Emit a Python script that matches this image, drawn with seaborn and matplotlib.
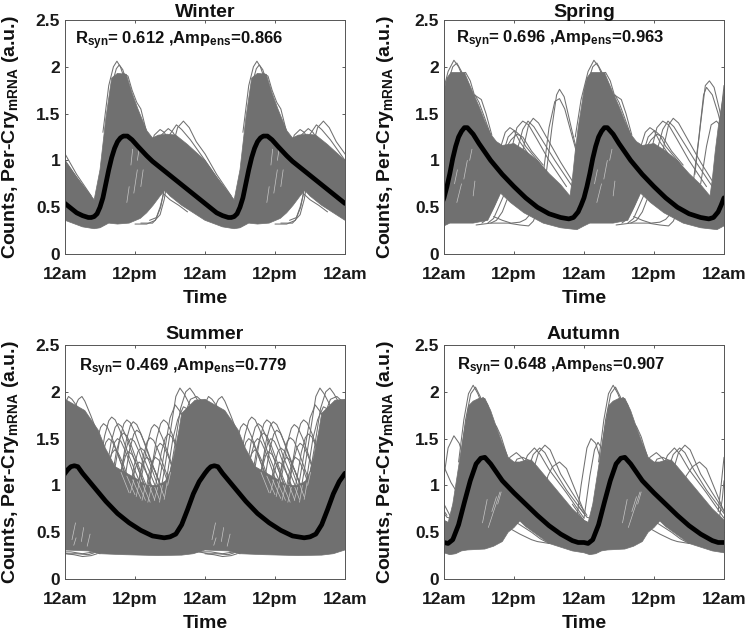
import numpy as np
import matplotlib
matplotlib.use("Agg")
import matplotlib.pyplot as plt
import seaborn as sns

sns.set_theme(style="white")
plt.rcParams['font.family'] = ['Liberation Sans', 'DejaVu Sans']
plt.rcParams['mathtext.fontset'] = 'custom'
plt.rcParams['mathtext.bf'] = 'Liberation Sans:bold'
plt.rcParams['mathtext.rm'] = 'Liberation Sans:bold'
plt.rcParams['mathtext.default'] = 'bf'

GRAY = '#707070'

seasons = ['Winter', 'Spring', 'Summer', 'Autumn']
rsyn = ['0.612', '0.696', '0.469', '0.648']
amp = ['0.866', '0.963', '0.779', '0.907']
tick_hours = [0, 12, 24, 36, 48]
tick_names = ['12am', '12pm', '12am', '12pm', '12am']
y_ticks = [0, 0.5, 1, 1.5, 2, 2.5]
y_names = ['0', '0.5', '1', '1.5', '2', '2.5']

# ---- ensemble mean (one day, hours, value)
winter_mean_h = [0, 1, 2, 3, 4, 4.5, 5, 5.5, 6, 6.5, 7, 7.5, 8, 8.5, 9, 9.5, 10, 10.7, 11.5, 12.5, 14, 15, 16, 18, 20, 22, 24]
winter_mean_v = [0.54, 0.49, 0.44, 0.41, 0.39, 0.39, 0.40, 0.43, 0.50, 0.60, 0.75, 0.90, 1.03, 1.13, 1.20, 1.24, 1.26, 1.26, 1.22, 1.15, 1.05, 0.99, 0.94, 0.84, 0.74, 0.64, 0.54]
spring_mean_h = [0, 0.5, 1, 1.5, 2, 2.5, 3, 3.5, 4, 5, 6, 8, 10, 12, 14, 16, 18, 20, 21.4, 22.2, 23, 23.5, 24]
spring_mean_v = [0.60, 0.72, 0.86, 1.02, 1.15, 1.25, 1.31, 1.35, 1.35, 1.28, 1.18, 1.00, 0.85, 0.72, 0.60, 0.50, 0.43, 0.39, 0.375, 0.39, 0.45, 0.52, 0.60]
summer_mean_h = [0, 0.5, 1, 1.6, 2.2, 3, 5, 7, 9, 11, 13, 15, 16, 17, 18, 19, 20, 21, 22, 23, 24]
summer_mean_v = [1.13, 1.17, 1.20, 1.21, 1.20, 1.13, 0.98, 0.83, 0.70, 0.60, 0.52, 0.46, 0.45, 0.44, 0.45, 0.48, 0.58, 0.74, 0.91, 1.04, 1.13]
autumn_mean_h = [0, 0.7, 1.5, 2.5, 3.5, 4.5, 5.5, 6.3, 7, 8, 9, 10, 12, 14, 16, 18, 20, 22, 23, 24]
autumn_mean_v = [0.39, 0.38, 0.42, 0.58, 0.82, 1.05, 1.23, 1.29, 1.30, 1.23, 1.14, 1.05, 0.92, 0.80, 0.68, 0.57, 0.48, 0.41, 0.39, 0.39]

# ---- dense part of the ensemble, upper and lower edge
winter_up_h = [0, 2, 5, 6, 7, 8, 9, 10.5, 11.5, 12.5, 14, 15, 16, 17.5, 19, 21, 24]
winter_up_v = [1.0, 0.82, 0.58, 0.9, 1.45, 1.88, 1.93, 1.92, 1.72, 1.55, 1.32, 1.24, 1.27, 1.28, 1.27, 1.17, 1.0]
winter_lo_h = [0, 3, 5, 6, 7.5, 9, 11, 12.9, 14, 15.1, 16.3, 17.1, 18, 20, 24]
winter_lo_v = [0.36, 0.29, 0.27, 0.28, 0.33, 0.32, 0.33, 0.38, 0.44, 0.52, 0.62, 0.68, 0.62, 0.52, 0.36]

spring_up_h = [0, 0.5, 1.2, 3.5, 5, 6, 7, 8, 9, 10, 12, 14, 16, 18, 20, 21.6, 22, 22.5, 23, 23.5, 24]
spring_up_v = [1.75, 1.88, 1.94, 1.94, 1.72, 1.58, 1.42, 1.28, 1.2, 1.16, 1.18, 1.1, 1.0, 0.86, 0.74, 0.62, 0.8, 1.1, 1.35, 1.55, 1.75]
spring_lo_h = [0, 1, 5, 7.5, 8.6, 9.7, 11.4, 13.7, 17, 20, 22.8, 24]
spring_lo_v = [0.30, 0.33, 0.33, 0.36, 0.50, 0.65, 0.55, 0.44, 0.33, 0.28, 0.26, 0.30]

summer_up_h = [0, 3.4, 5.7, 6.9, 8.6, 10, 12, 14, 16, 17.3, 18, 18.6, 19.5, 20, 22.3, 24]
summer_up_v = [1.92, 1.8, 1.59, 1.4, 1.2, 1.15, 1.08, 1.0, 1.0, 1.05, 1.15, 1.3, 1.58, 1.77, 1.91, 1.92]
summer_lo_h = [0, 4, 6, 10, 16, 20, 22, 24]
summer_lo_v = [0.31, 0.30, 0.27, 0.26, 0.25, 0.255, 0.27, 0.31]

autumn_up_h = [0, 0.7, 1.5, 2.5, 3.5, 4.2, 5, 6, 7, 8, 9, 10, 11, 12, 13, 14, 15, 16, 18, 20, 22, 24]
autumn_up_v = [0.63, 0.60, 0.80, 1.2, 1.6, 1.85, 1.9, 1.93, 1.93, 1.8, 1.62, 1.45, 1.3, 1.25, 1.25, 1.27, 1.27, 1.2, 1.05, 0.9, 0.75, 0.63]
autumn_lo_h = [0, 1, 2, 3, 4, 7, 8.5, 10, 11, 12, 13, 14, 16, 18, 20, 22, 24]
autumn_lo_v = [0.28, 0.26, 0.27, 0.30, 0.31, 0.32, 0.35, 0.40, 0.50, 0.55, 0.62, 0.56, 0.47, 0.38, 0.34, 0.30, 0.28]

# ---- individual oscillators that stand out, repeating every day
winter_traces = [
    ([6.5, 7.5, 8.3, 8.9, 9.5, 10.3], [1.3, 1.8, 2.0, 2.06, 2.0, 1.85]),
    ([7, 8, 8.8, 9.3, 9.9, 10.5], [1.3, 1.8, 1.98, 2.02, 1.97, 1.85]),
    ([10, 10.8, 11.5, 12.3, 13, 14], [1.93, 1.9, 1.75, 1.62, 1.55, 1.3]),
    ([14.5, 15.3, 16.3, 17, 18], [1.1, 1.27, 1.33, 1.3, 1.2]),
    ([15.5, 16.5, 17.7, 18.5, 19.5], [1.1, 1.27, 1.34, 1.3, 1.2]),
    ([17, 18, 19.1, 20, 21.5, 24, 26, 28.5], [1.05, 1.28, 1.38, 1.33, 1.22, 1.0, 0.82, 0.6]),
    ([18, 19.3, 20.3, 21.3, 22.5, 24, 26, 28.5], [1.05, 1.35, 1.42, 1.35, 1.2, 1.07, 0.85, 0.62]),
    ([12, 14, 15.5, 16.3, 16.8, 17.5], [0.32, 0.32, 0.36, 0.5, 0.62, 0.85]),
    ([13, 15, 16.3, 17, 17.6], [0.33, 0.33, 0.42, 0.58, 0.8]),
    ([14.5, 15.7, 16.4, 16.9], [0.36, 0.39, 0.5, 0.66]),
    ([16.8, 18, 19.5, 21], [0.65, 0.58, 0.52, 0.45]),
]
spring_traces = [
    ([-1.5, -0.5, 0.7, 1.7, 2.5, 3.5], [1.25, 1.65, 1.95, 2.07, 2.0, 1.85]),
    ([-0.8, 0.5, 1.5, 2.2, 3, 4], [1.3, 1.8, 2.0, 2.04, 1.95, 1.8]),
    ([2.5, 3.7, 4.5, 5.2, 6.4, 7.2, 8.2], [1.9, 1.94, 1.85, 1.7, 1.65, 1.5, 1.27]),
    ([4.5, 5.3, 6, 7, 8], [1.6, 1.7, 1.62, 1.45, 1.27]),
    ([9.5, 10.5, 11.3, 12, 13, 15, 18], [1.1, 1.3, 1.35, 1.32, 1.2, 1.02, 0.8]),
    ([10, 11, 12.1, 13, 14, 16, 19], [1.05, 1.25, 1.32, 1.27, 1.15, 1.0, 0.75]),
    ([11.5, 12.5, 13.5, 14.5, 16, 18, 21], [1.1, 1.35, 1.42, 1.38, 1.22, 1.0, 0.72]),
    ([12.5, 13.5, 14.4, 15.4, 17, 19, 22], [1.1, 1.33, 1.42, 1.36, 1.2, 1.0, 0.72]),
    ([13.5, 14.5, 15.3, 16.2, 18, 20, 23], [1.1, 1.38, 1.45, 1.4, 1.2, 0.98, 0.68]),
    ([10.5, 11.5, 12.5, 13.5, 15, 17], [1.12, 1.22, 1.28, 1.25, 1.1, 0.95]),
    ([6.5, 7.5, 8.5, 9.5], [0.33, 0.38, 0.50, 0.65]),
    ([7.5, 8.5, 9.5, 10.2], [0.33, 0.38, 0.52, 0.62]),
    ([8, 9, 10, 10.8], [0.33, 0.36, 0.45, 0.58]),
    ([5.5, 8, 11, 13, 14.5, 15.3, 16], [0.31, 0.33, 0.33, 0.31, 0.30, 0.35, 0.45]),
    ([8.5, 10, 11.5, 13, 14, 15, 15.6], [0.40, 0.36, 0.33, 0.34, 0.37, 0.44, 0.46]),
]
spring_once = [
    ([17, 18, 19, 19.8, 20.7, 22, 24], [0.85, 1.35, 1.63, 1.66, 1.55, 1.25, 0.8]),
    ([17.5, 18.5, 19.3, 19.8, 20.6, 22, 24], [0.85, 1.35, 1.7, 1.76, 1.68, 1.3, 0.8]),
    ([43, 44, 44.8, 45.5, 46.3, 47.2, 48], [0.85, 1.4, 1.8, 1.85, 1.78, 1.55, 1.3]),
    ([42.8, 43.7, 44.5, 45, 46, 47, 48], [0.8, 1.25, 1.7, 1.78, 1.7, 1.5, 1.25]),
    ([44, 45, 45.8, 46.7, 47.3, 48], [0.75, 1.15, 1.38, 1.42, 1.38, 1.25]),
    ([47, 47.5, 48], [1.1, 1.5, 1.8]),
]
summer_traces = [
    ([0.2, 0.6, 1.2, 2, 3.5], [1.9, 1.95, 1.92, 1.85, 1.7]),
    ([1, 2, 2.3, 2.9, 3.4, 4.4, 5.2, 7], [1.65, 1.88, 1.92, 1.95, 1.9, 1.75, 1.62, 1.35]),
    ([3.6, 4.6, 5.4, 6.1, 6.6, 7.2, 8, 9.6, 12.1], [0.86, 1.16, 1.46, 1.62, 1.66, 1.63, 1.52, 1.24, 0.86]),
    ([5, 6, 6.8, 7.5, 8, 8.6, 9.4, 11, 13.5], [0.93, 1.23, 1.53, 1.69, 1.73, 1.7, 1.59, 1.31, 0.93]),
    ([6.1, 7.1, 7.9, 8.6, 9.1, 9.7, 10.5, 12.1, 14.6], [0.86, 1.16, 1.46, 1.62, 1.66, 1.63, 1.52, 1.24, 0.86]),
    ([7.6, 8.6, 9.4, 10.1, 10.6, 11.2, 12, 13.6, 16.1], [0.9, 1.2, 1.5, 1.66, 1.7, 1.67, 1.56, 1.28, 0.9]),
    ([8.7, 9.7, 10.5, 11.2, 11.7, 12.3, 13.1, 14.7, 17.2], [0.88, 1.18, 1.48, 1.64, 1.68, 1.65, 1.54, 1.26, 0.88]),
    ([9.3, 10.3, 11.1, 11.8, 12.3, 12.9, 13.7, 15.3, 17.8], [0.79, 1.09, 1.39, 1.55, 1.59, 1.56, 1.45, 1.17, 0.79]),
    ([11.6, 12.6, 13.4, 14.1, 14.6, 15.2, 16, 17.6], [0.71, 1.01, 1.31, 1.47, 1.51, 1.48, 1.37, 1.09]),
    ([12.3, 13.3, 14.1, 14.8, 15.3, 15.9, 16.7, 18.3], [0.85, 1.15, 1.45, 1.61, 1.65, 1.62, 1.51, 1.23]),
    ([13.9, 14.9, 15.7, 16.4, 16.9, 17.5, 18.3, 19.9], [0.9, 1.2, 1.5, 1.66, 1.7, 1.67, 1.56, 1.28]),
    ([4.5, 5.5, 6.3, 7, 7.5, 8.1, 8.9, 10.5, 13], [0.7, 1.0, 1.3, 1.46, 1.5, 1.47, 1.36, 1.08, 0.7]),
    ([6, 7, 7.8, 8.5, 9, 9.6, 10.4, 12, 14.5], [0.7, 1.0, 1.3, 1.46, 1.5, 1.47, 1.36, 1.08, 0.7]),
    ([7, 8, 8.8, 9.5, 10, 10.6, 11.4, 13, 15.5], [0.76, 1.06, 1.36, 1.52, 1.56, 1.53, 1.42, 1.14, 0.76]),
    ([8.3, 9.3, 10.1, 10.8, 11.3, 11.9, 12.7, 14.3, 16.8], [0.7, 1.0, 1.3, 1.46, 1.5, 1.47, 1.36, 1.08, 0.7]),
    ([10, 11, 11.8, 12.5, 13, 13.6, 14.4, 16, 18.5], [0.7, 0.9, 1.2, 1.36, 1.4, 1.37, 1.26, 0.98, 0.6]),
    ([11, 12, 12.8, 13.5, 14, 14.6, 15.4, 17], [0.6, 0.8, 1.1, 1.26, 1.3, 1.27, 1.16, 0.88]),
    ([12.5, 13.5, 14.3, 15, 15.5, 16.1, 16.9, 18.5], [0.6, 0.8, 1.1, 1.26, 1.3, 1.27, 1.16, 0.88]),
    ([13.3, 14.3, 15.1, 15.8, 16.3, 16.9, 17.7, 19.3], [0.65, 0.95, 1.25, 1.41, 1.45, 1.42, 1.31, 1.03]),
    ([14.7, 15.7, 16.5, 17.2, 17.7, 18.3, 19.1], [0.75, 1.05, 1.35, 1.51, 1.55, 1.52, 1.41]),
    ([5.5, 6.5, 7.3, 8, 8.5, 9.1, 9.9, 11.5, 14], [0.6, 0.88, 1.18, 1.34, 1.38, 1.35, 1.24, 0.96, 0.6]),
    ([7.9, 8.9, 9.7, 10.4, 10.9, 11.5, 12.3, 13.9, 16.4], [0.6, 0.86, 1.16, 1.32, 1.36, 1.33, 1.22, 0.94, 0.6]),
    ([9.7, 10.7, 11.5, 12.2, 12.7, 13.3, 14.1, 15.7, 18], [0.5, 0.75, 1.05, 1.21, 1.25, 1.22, 1.11, 0.83, 0.5]),
    ([15.3, 16.2, 17.2, 18, 18.9, 19.6, 20.5], [0.8, 1.05, 1.42, 1.72, 1.86, 1.8, 1.72]),
    ([16, 17, 18, 19, 19.7, 20.4, 21.5, 23], [0.8, 1.15, 1.55, 1.95, 2.04, 1.98, 1.85, 1.75]),
    ([16.8, 17.8, 18.8, 19.8, 20.7, 21.4, 22.1, 23.5], [0.8, 1.05, 1.42, 1.82, 2.0, 2.04, 1.98, 1.82]),
    ([17.5, 18.5, 19.5, 20.5, 21.5, 22.6, 23.5], [0.85, 1.12, 1.42, 1.75, 1.92, 1.95, 1.9]),
    ([16.5, 17.5, 18.5, 19.3, 20.3, 21.5], [0.82, 1.1, 1.5, 1.7, 1.84, 1.8]),
    ([0, 1.5, 3, 4.5, 5.5], [0.27, 0.26, 0.24, 0.25, 0.27]),
    ([-1, 0.5, 2, 4, 5], [0.29, 0.27, 0.27, 0.26, 0.28]),
    ([-1.5, 1, 3, 5, 6], [0.29, 0.29, 0.27, 0.29, 0.27]),
]
autumn_traces = [
    ([2.5, 3.4, 4.2, 5, 5.8, 6.8], [1.25, 1.7, 1.98, 2.07, 1.98, 1.82]),
    ([2.8, 3.7, 4.6, 5.4, 6.2, 7.2], [1.25, 1.7, 1.98, 2.05, 1.95, 1.8]),
    ([6, 6.7, 7.5, 8.3, 9, 9.8, 10.8], [1.9, 1.94, 1.86, 1.68, 1.63, 1.52, 1.32]),
    ([10, 11.3, 12.4, 13.3, 14.5, 16], [1.1, 1.3, 1.35, 1.3, 1.2, 1.1]),
    ([11, 12.5, 13.5, 14.5, 16], [1.1, 1.28, 1.3, 1.27, 1.15]),
    ([13, 14.3, 15.5, 16.5, 18, 21, 24], [1.1, 1.32, 1.4, 1.33, 1.17, 0.92, 0.65]),
    ([14, 15.3, 16.4, 17.3, 18.8, 21, 24], [1.1, 1.33, 1.4, 1.35, 1.17, 0.95, 0.7]),
    ([15, 16.2, 17.3, 18.2, 20, 22, 24.5], [1.1, 1.35, 1.43, 1.38, 1.12, 0.92, 0.68]),
    ([11, 13, 15, 16, 18, 19, 19.8], [0.55, 0.48, 0.42, 0.40, 0.38, 0.42, 0.55]),
    ([12.5, 15, 16.5, 18, 19.5, 20.5], [0.6, 0.5, 0.43, 0.38, 0.42, 0.55]),
    ([-2, 0, 1, 2.5, 3.5], [0.8, 0.62, 0.6, 0.9, 1.3]),
    ([-1, 0.5, 1.5, 2.8, 3.8], [0.78, 0.66, 0.64, 0.95, 1.35]),
]
autumn_once = [
    ([-0.8, 0, 0.7, 1.7, 2.6, 3.6, 5], [0.7, 1.1, 1.4, 1.53, 1.45, 1.25, 0.9]),
    ([0, 1.2, 2, 3.5, 5], [1.2, 1.03, 0.95, 0.75, 0.65]),
    ([0, 0.5, 1.5, 3], [0.8, 0.74, 0.62, 0.58]),
    ([22.7, 23.5, 24.5, 25.2, 26, 27, 28], [0.62, 1.0, 1.4, 1.5, 1.45, 1.25, 1.05]),
    ([24, 25, 25.8, 26.4, 27, 28], [0.65, 1.1, 1.38, 1.46, 1.4, 1.15]),
    ([16.8, 17.8, 18.6, 19.8, 21, 22.5, 24], [0.82, 1.1, 1.2, 1.25, 1.18, 0.95, 0.72]),
    ([40.5, 41.5, 42.6, 43.8, 45, 46.5, 48], [0.82, 1.1, 1.2, 1.25, 1.18, 0.95, 0.72]),
    ([47, 47.5, 48], [0.72, 1.0, 1.3]),
    ([47.2, 47.7, 48], [0.65, 0.85, 1.05]),
]

# ---- pale gaps inside the dense band
winter_gaps = [([11.3, 11.6], [0.95, 1.12]), ([11.8, 12.4], [0.65, 0.9]), ([10.6, 11], [0.55, 0.72]), ([13, 13.4], [0.72, 0.9]), ([12.4, 12.7], [1.0, 1.12])]
spring_gaps = [([2.2, 3], [0.55, 0.75]), ([3.4, 4], [0.8, 1.0]), ([4.4, 4.8], [1.0, 1.12]), ([1.8, 2.3], [0.75, 0.9]), ([5, 5.3], [0.62, 0.78])]
summer_gaps = [
    ([1.2, 1.8], [0.42, 0.6]), ([2.8, 3.2], [0.4, 0.55]), ([3.8, 4.3], [0.35, 0.48]), ([1.5, 1.9], [0.36, 0.44]),
    ([9.6, 11], [1.14, 0.92]), ([10.6, 12], [1.1, 0.9]), ([11.6, 13], [1.06, 0.86]), ([12.4, 13.8], [1.04, 0.84]),
    ([13.4, 14.6], [1.0, 0.82]), ([14.5, 15.4], [0.99, 0.84]), ([15.4, 16.2], [0.98, 0.85]), ([16.3, 17], [1.0, 0.88]),
    ([12.2, 12.8], [0.88, 1.05]), ([13.2, 13.8], [0.84, 1.0]), ([14.2, 14.8], [0.82, 0.98]), ([15.3, 15.9], [0.84, 0.98]),
    ([16.2, 16.7], [0.82, 1.0]), ([17, 17.5], [0.85, 1.03]), ([11.2, 11.8], [0.92, 1.06]), ([17.6, 18.1], [1.0, 1.14]),
]
autumn_gaps = [([7.6, 9.6], [0.55, 0.93]), ([8.2, 9], [0.72, 0.88]), ([6.6, 7.4], [0.6, 0.85]), ([9.2, 9.8], [0.8, 0.93])]

panels = [
    (65, 20, winter_mean_h, winter_mean_v, winter_up_h, winter_up_v, winter_lo_h, winter_lo_v, winter_traces, [], winter_gaps, 1.7, 2.24, 2.5, -0.196),
    (444, 20, spring_mean_h, spring_mean_v, spring_up_h, spring_up_v, spring_lo_h, spring_lo_v, spring_traces, spring_once, spring_gaps, 2.1, 2.25, 2.5, -0.21),
    (65, 345, summer_mean_h, summer_mean_v, summer_up_h, summer_up_v, summer_lo_h, summer_lo_v, summer_traces, [], summer_gaps, 2.4, 2.22, 4, -0.196),
    (444, 345, autumn_mean_h, autumn_mean_v, autumn_up_h, autumn_up_v, autumn_lo_h, autumn_lo_v, autumn_traces, autumn_once, autumn_gaps, 2.2, 2.23, 4, -0.21),
]


def three_days(h, v):
    h = np.asarray(h, float)
    v = np.asarray(v, float)
    return np.concatenate([h - 24, h, h + 24]), np.concatenate([v, v, v])


W, H = 747, 631
fig = plt.figure(figsize=(W / 100, H / 100), dpi=100, facecolor='white')

for i, (px, py, mh, mv, uh, uv, lh, lv, traces, once, gaps, tx, ty, tpad, lx_pos) in enumerate(panels):
    ax = fig.add_axes([px / W, 1 - (py + 234) / H, 280 / W, 234 / H])
    ux, uy = three_days(uh, uv)
    lx, ly = three_days(lh, lv)
    ax.fill(np.concatenate([ux, lx[::-1]]), np.concatenate([uy, ly[::-1]]), color=GRAY, lw=0.5)
    for th, tv in traces:
        for shift in (-24, 0, 24):
            sns.lineplot(x=np.array(th) + shift, y=tv, ax=ax, color=GRAY, lw=0.75, sort=False,
                         estimator=None, errorbar=None, legend=False)
    for th, tv in once:
        sns.lineplot(x=th, y=tv, ax=ax, color=GRAY, lw=0.75, sort=False,
                     estimator=None, errorbar=None, legend=False)
    for th, tv in gaps:
        for shift in (0, 24):
            sns.lineplot(x=np.array(th) + shift, y=tv, ax=ax, color='#c8c8c8', lw=0.5, sort=False,
                         estimator=None, errorbar=None, legend=False)
    bx, by = three_days(mh, mv)
    sns.lineplot(x=bx, y=by, ax=ax, color='black', lw=3.4, sort=False,
                 estimator=None, errorbar=None, legend=False)

    ax.set_xlim(0, 48)
    ax.set_ylim(0, 2.5)
    ax.set_xticks(tick_hours, tick_names)
    ax.set_yticks(y_ticks, y_names)
    ax.tick_params(direction='in', length=2.5, width=0.6, color='#404040', top=True, right=True,
                   left=True, bottom=True, labelsize=12.5, pad=3.5)
    ax.tick_params(axis='x', pad=9.5)
    for lab in ax.get_xticklabels() + ax.get_yticklabels():
        lab.set_fontweight('bold')
        lab.set_color('#1a1a1a')
    for s in ax.spines.values():
        s.set_color('#555555')
        s.set_linewidth(0.7)
        s.set_visible(True)
    ax.set_title(seasons[i], fontsize=14, fontweight='bold', pad=tpad, color='#111111')
    ax.set_xlabel('Time', fontsize=14, fontweight='bold', color='#111111', labelpad=5.5)
    ax.set_ylabel(r'Counts, Per-Cry$_{\mathbf{mRNA}}$ (a.u.)', fontsize=14, fontweight='bold',
                  color='#111111', va='center')
    ax.yaxis.set_label_coords(lx_pos, 0.5)
    ax.text(tx, ty, r'R$_{\mathbf{syn}}$= ' + rsyn[i] + r' ,Amp$_{\mathbf{ens}}$=' + amp[i],
            fontsize=12, fontweight='bold', color='#111111', va='baseline', ha='left')

fig.savefig('out.png', dpi=100)
